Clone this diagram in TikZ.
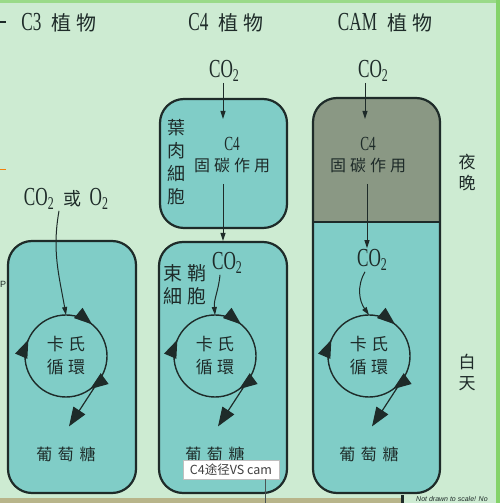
\documentclass[tikz,border=0pt]{standalone}
\usepackage{fontspec}
\setmainfont{Liberation Serif}
\newfontfamily\lat[FakeStretch=0.66]{Liberation Serif}
\newfontfamily\cjk[LetterSpace=25]{Noto Sans CJK TC}
\newfontfamily\tipfont{Noto Sans CJK SC}
\newfontfamily\notefont{Liberation Sans}
\usetikzlibrary{arrows.meta}
\usetikzlibrary{decorations.markings}

\definecolor{bgmint}{HTML}{CDEBD2}
\definecolor{cellteal}{HTML}{80CDC7}
\definecolor{nightgray}{HTML}{8A9884}
\definecolor{inkdark}{HTML}{1E2B29}
\definecolor{edgegreen}{HTML}{84D36A}
\definecolor{stripolive}{HTML}{B8B58A}

\newcommand{\cotwo}{CO\raisebox{-4pt}{\fontsize{18}{18}\selectfont 2}}
\newcommand{\otwo}{O\raisebox{-4pt}{\fontsize{18}{18}\selectfont 2}}
\newcommand{\cjkhead}{\cjk\fontsize{20}{20}\selectfont}

\begin{document}
\begin{tikzpicture}[x=1pt,y=1pt,
  cellbox/.style={draw=inkdark,line width=2.2pt,fill=cellteal,rounded corners=24pt,inner sep=0pt},
  head/.style={text=inkdark,inner sep=1pt,font=\lat\fontsize{26}{28}\selectfont},
  gas/.style={text=inkdark,inner sep=1pt,font=\lat\fontsize{26}{28}\selectfont},
  fixlbl/.style={text=inkdark,align=center,inner sep=1pt,font=\lat\fontsize{20}{21}\selectfont},
  cjklbl/.style={text=inkdark,align=center,inner sep=1pt,font=\cjk\fontsize{18}{23}\selectfont},
  cyclbl/.style={circle,minimum size=82pt,inner sep=0pt,outer sep=0pt,align=center,text=inkdark,
    font=\cjk\fontsize{17}{23}\selectfont},
  sugar/.style={text=inkdark,inner sep=1pt,font=\cjk\fontsize{16}{18}\selectfont\addfontfeature{LetterSpace=35}},
  ring/.style={draw=inkdark,line width=1.4pt,postaction={decorate},decoration={markings,
      mark=at position 0.110 with {\arrow{Triangle[length=18pt,width=13pt]}},
      mark=at position 0.400 with {\arrow{Triangle[length=18pt,width=13pt]}},
      mark=at position 0.815 with {\arrow{Triangle[length=18pt,width=13pt]}}}},
  inflow/.style={draw=inkdark,line width=1pt,-{Triangle[length=8pt,width=5pt]}},
  outflow/.style={draw=inkdark,line width=1.2pt,-{Triangle[length=19pt,width=14pt]}}]

\useasboundingbox (0,0) rectangle (500,503);
\fill[bgmint] (0,0) rectangle (500,503);
\fill[edgegreen!70!bgmint] (0,500) rectangle (500,503);
\fill[edgegreen] (496,0) rectangle (500,503);

% cells
\node[cellbox,minimum width=128pt,minimum height=252pt] (c3cell) at (72,136) {};
\node[cellbox,minimum width=127pt,minimum height=129pt] (c4meso) at (223.5,339.5) {};
\node[cellbox,minimum width=128pt,minimum height=251pt] (c4sheath) at (223,135.5) {};
\node[cellbox,minimum width=127pt,minimum height=395pt,path picture={
    \fill[nightgray,sharp corners] (path picture bounding box.north west) rectangle ([yshift=-124pt]path picture bounding box.north east);
    \draw[inkdark,line width=1.2pt,sharp corners] ([yshift=-124pt]path picture bounding box.north west) -- ([yshift=-124pt]path picture bounding box.north east);}]
  (camcell) at (376.5,207.5) {};

% titles
\node[head] (c3head) at (59,480) {C3\hspace{10pt}{\cjkhead 植物}};
\node[head] (c4head) at (226,480) {C4\hspace{10pt}{\cjkhead 植物}};
\node[head] (camhead) at (385,480) {CAM\hspace{10pt}{\cjkhead 植物}};

% gases and labels
\node[gas] (c3in) at (66,304) {\cotwo\hspace{10pt}{\cjk\fontsize{18}{18}\selectfont 或}\hspace{8pt}\otwo};
\node[gas] (c4co) at (224,432) {\cotwo};
\node[fixlbl] (c4fix) at (232,348) {C4\\{\cjk\fontsize{16}{21}\selectfont 固碳作用}};
\node[cjklbl] (c4mesolbl) at (176,341) {葉\\肉\\細\\胞};
\node[gas] (c4in) at (227,240) {\cotwo};
\node[cjklbl,font=\cjk\fontsize{19}{23}\selectfont] (c4sheathlbl) at (185,218) {束鞘\\細胞};
\node[gas] (camco) at (373,432) {\cotwo};
\node[fixlbl] (camfix) at (368,348) {C4\\{\cjk\fontsize{16}{21}\selectfont 固碳作用}};
\node[gas] (camin) at (372,243) {\cotwo};
\node[cjklbl,font=\cjk\fontsize{17}{21}\selectfont] (night) at (467,330) {夜\\晚};
\node[cjklbl,font=\cjk\fontsize{17}{21}\selectfont] (day) at (467,131) {白\\天};

% calvin cycles
\foreach \p/\cx in {c3/66,c4/215,cam/369}{
  \node[cyclbl] (\p-cyc) at (\cx,147) {卡氏\\循環};
  \draw[ring] (\p-cyc.90) arc[start angle=90,end angle=-270,radius=41pt];
  \node[sugar] (\p-sug) at (\cx,49) {葡萄糖};
  \draw[outflow] (\p-cyc.-36) -- ([xshift=3pt,yshift=19pt]\p-sug.north);
}

% CO2 flows
\draw[inflow] ([xshift=-7pt]c3in.south) to[out=-100,in=100] (c3-cyc.north);
\draw[inflow,shorten >=17pt] ([xshift=-1pt]c4co.south) -- ([xshift=-1pt]c4co.south |- c4fix.north);
\draw[inflow,shorten <=10pt] ([xshift=-1pt]c4co.south |- c4fix.south) -- ([xshift=-1pt]c4co.south |- c4sheath.north);
\draw[inflow] ([xshift=-7pt]c4in.south) to[out=-95,in=95] (c4-cyc.north);
\draw[inflow,shorten >=17pt] ([xshift=-8pt]camco.south) -- ([xshift=-8pt]camco.south |- camfix.north);
\draw[inflow,shorten <=10pt] ([xshift=-1pt]camfix.south) -- ([xshift=-1pt]camfix.south |- camin.north);
\draw[inflow] ([xshift=-7pt]camin.south) to[out=-120,in=125] (cam-cyc.north);

% stray marks at the left edge
\draw[inkdark,line width=1.3pt] (0,481) -- (6,481);
\draw[orange!80!brown,line width=1pt] (0,333) -- (6,333);
\node[anchor=west,inner sep=0pt,font=\notefont\fontsize{9}{9}\selectfont,text=inkdark] (strayp) at (0,219) {P};

% bottom strip
\fill[stripolive] (0,0) rectangle (402,5);
\fill[inkdark] (401,0) rectangle (404,8);
\node[anchor=south west,inner sep=0pt,font=\notefont\itshape\fontsize{7}{7}\selectfont,text=inkdark] (scalenote) at (416,1) {Not drawn to scale! No};

% tooltip
\node[draw=black!25,fill=white,minimum width=96pt,minimum height=19pt,inner sep=0pt,
  font=\tipfont\fontsize{12.5}{13}\selectfont,text=black!75] (tipbox) at (231,33.5) {C4途径VS cam};
\coordinate (tipfoot) at (265,0);
\draw[inkdark!80,line width=0.7pt] (tipbox.south -| tipfoot) -- (tipfoot);
\end{tikzpicture}
\end{document}
